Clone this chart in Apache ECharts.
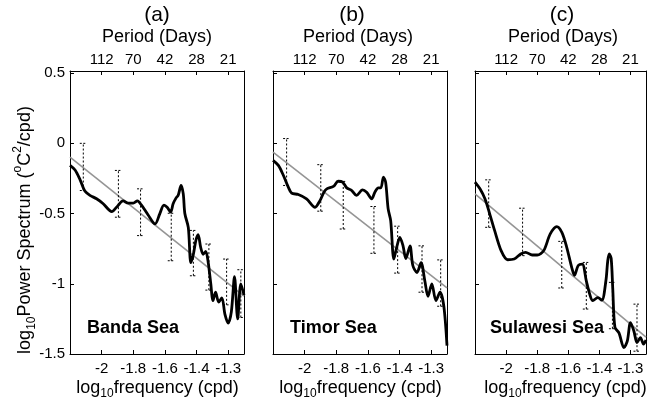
<!DOCTYPE html>
<html><head><meta charset="utf-8">
<script src="https://cdn.jsdelivr.net/npm/echarts@6/dist/echarts.min.js"></script>
<style>html,body{margin:0;padding:0;background:#fff}#c{width:649px;height:399px}</style>
</head><body><div id="c"></div>
<script>
// x positions are in axis units: tick k (1..5) carries the k-th label
const tickPositions = [1, 2, 3, 4, 5];
const bottomTickLabels = ['-2', '-1.8', '-1.6', '-1.4', '-1.3'];
const topTickLabels = ['112', '70', '42', '28', '21'];
const yTickLabels = ['-1.5', '-1', '-0.5', '0', '0.5'];
const panelLetters = ['(a)', '(b)', '(c)'];
const seaNames = ['Banda Sea', 'Timor Sea', 'Sulawesi Sea'];

// Panel (a) Banda Sea
const bandaCurve = [[0,-0.157],[0.16,-0.19],[0.32,-0.26],[0.47,-0.34],[0.63,-0.37],[0.84,-0.395],[1.05,-0.43],[1.32,-0.486],[1.47,-0.455],[1.68,-0.41],[1.84,-0.426],[2.0,-0.426],[2.13,-0.41],[2.26,-0.44],[2.47,-0.51],[2.69,-0.574],[2.84,-0.50],[2.97,-0.44],[3.07,-0.455],[3.18,-0.49],[3.26,-0.43],[3.35,-0.39],[3.42,-0.37],[3.51,-0.30],[3.58,-0.36],[3.63,-0.50],[3.74,-0.60],[3.82,-0.85],[3.90,-0.79],[3.98,-0.69],[4.05,-0.65],[4.13,-0.74],[4.21,-0.79],[4.29,-0.77],[4.37,-0.85],[4.45,-1.0],[4.52,-1.12],[4.6,-1.06],[4.7,-1.13],[4.8,-1.1],[4.9,-1.22],[5.0,-1.28],[5.1,-1.2],[5.2,-0.95],[5.3,-1.25],[5.4,-1.0],[5.5,-1.08]];
const bandaFit = [[0,-0.098],[5.5,-1.088]];
const bandaBars = [[0.42,-0.336,0.0],[1.53,-0.526,-0.193],[2.23,-0.657,-0.324],[3.2,-0.836,-0.498],[3.9,-0.943,-0.62],[4.39,-1.045,-0.717],[4.95,-1.15,-0.824],[5.4,-1.24,-0.90]];

// Panel (b) Timor Sea
const timorCurve = [[0,-0.121],[0.17,-0.157],[0.33,-0.229],[0.48,-0.31],[0.59,-0.355],[0.80,-0.364],[1.06,-0.395],[1.33,-0.455],[1.48,-0.41],[1.61,-0.348],[1.70,-0.324],[1.91,-0.307],[2.06,-0.27],[2.20,-0.276],[2.33,-0.317],[2.49,-0.336],[2.64,-0.371],[2.83,-0.331],[2.96,-0.348],[3.12,-0.395],[3.22,-0.348],[3.33,-0.317],[3.41,-0.317],[3.49,-0.24],[3.56,-0.276],[3.64,-0.467],[3.72,-0.55],[3.82,-0.824],[3.91,-0.74],[4.01,-0.67],[4.11,-0.73],[4.20,-0.82],[4.33,-0.73],[4.42,-0.87],[4.55,-0.92],[4.68,-0.85],[4.80,-0.98],[4.90,-1.09],[5.02,-1.0],[5.15,-1.12],[5.28,-1.06],[5.40,-1.16],[5.5,-1.44]];
const timorFit = [[0,-0.062],[5.5,-1.03]];
const timorBars = [[0.43,-0.30,0.034],[1.51,-0.483,-0.152],[2.22,-0.61,-0.271],[3.19,-0.783,-0.45],[3.94,-0.924,-0.59],[4.71,-1.06,-0.73],[5.3,-1.16,-0.83]];

// Panel (c) Sulawesi Sea
const sulawesiCurve = [[0,-0.276],[0.16,-0.324],[0.32,-0.395],[0.47,-0.50],[0.63,-0.62],[0.84,-0.764],[1.05,-0.829],[1.26,-0.824],[1.47,-0.788],[1.63,-0.776],[1.84,-0.795],[2.0,-0.795],[2.21,-0.764],[2.42,-0.645],[2.63,-0.593],[2.79,-0.633],[2.95,-0.74],[3.11,-0.883],[3.2,-0.94],[3.32,-0.87],[3.45,-0.86],[3.58,-0.979],[3.69,-1.074],[3.79,-1.12],[3.95,-1.098],[4.08,-1.117],[4.21,-0.979],[4.27,-0.836],[4.32,-0.788],[4.38,-0.82],[4.43,-1.03],[4.50,-1.31],[4.63,-1.35],[4.79,-1.455],[4.90,-1.407],[5.0,-1.276],[5.11,-1.336],[5.21,-1.419],[5.32,-1.383],[5.42,-1.43],[5.5,-1.40]];
const sulawesiFit = [[0,-0.36],[5.5,-1.38]];
const sulawesiBars = [[0.44,-0.598,-0.26],[1.53,-0.80,-0.462],[2.79,-1.03,-0.698],[3.58,-1.18,-0.848],[4.42,-1.32,-0.99],[5.21,-1.48,-1.145]];

const curves = [bandaCurve, timorCurve, sulawesiCurve];
const fits = [bandaFit, timorFit, sulawesiFit];
const bars = [bandaBars, timorBars, sulawesiBars];

const FONT = 'Liberation Sans, Arial, sans-serif';
const grids = [
  {left: 70, top: 71, width: 174, height: 283},
  {left: 273, top: 71, width: 174, height: 283},
  {left: 475, top: 71, width: 173, height: 283}
];
const letterX = [157, 352, 562];
const periodX = [157, 358, 563];
const freqX = [157.5, 360.5, 565.5];
const seaX = [87, 290, 490];

function tickLabel(list) {
  return function (v) {
    const i = tickPositions.indexOf(Math.round(v * 1000) / 1000);
    return i >= 0 ? list[i] : '';
  };
}
function yLabel(v) {
  const r = Math.round(v * 1000) / 1000;
  const s = String(r);
  return yTickLabels.indexOf(s) >= 0 ? s : '';
}

const xAxes = [], yAxes = [], series = [], graphics = [];
grids.forEach((g, i) => {
  const lineS = {show: true, onZero: false, lineStyle: {color: '#000', width: 1}};
  const common = {
    gridIndex: i, type: 'value', min: 0, max: 5.5, interval: 1,
    axisLine: lineS,
    axisTick: {show: true, inside: true, length: 4, lineStyle: {color: '#000'}},
    splitLine: {show: false},
    axisLabel: {fontFamily: FONT, fontSize: 15, color: '#000'}
  };
  xAxes.push(Object.assign({}, common, {position: 'bottom',
    axisLabel: Object.assign({}, common.axisLabel, {margin: 7, formatter: tickLabel(bottomTickLabels)})}));
  xAxes.push(Object.assign({}, common, {position: 'top',
    axisLabel: Object.assign({}, common.axisLabel, {margin: 4, formatter: tickLabel(topTickLabels)})}));
  yAxes.push({
    gridIndex: i, type: 'value', min: -1.5, max: 0.515, interval: 0.5, position: 'left',
    axisLine: lineS,
    axisTick: {show: true, inside: true, length: 4, lineStyle: {color: '#000'}},
    splitLine: {show: false},
    axisLabel: {show: i === 0, fontFamily: FONT, fontSize: 15, color: '#000', margin: 5, formatter: yLabel}
  });
  yAxes.push({
    gridIndex: i, type: 'value', min: -1.5, max: 0.515, position: 'right',
    axisLine: lineS,
    axisTick: {show: false}, axisLabel: {show: false}, splitLine: {show: false}
  });
  const xi = i * 2, yi = i * 2;
  series.push({
    type: 'line', xAxisIndex: xi, yAxisIndex: yi, data: fits[i], showSymbol: false, silent: true,
    lineStyle: {color: '#959595', width: 1.6}, z: 2
  });
  series.push({
    type: 'custom', xAxisIndex: xi, yAxisIndex: yi, data: bars[i], silent: true, z: 3,
    encode: {x: 0, y: [1, 2]},
    renderItem: function (params, api) {
      const x = api.value(0), lo = api.value(1), hi = api.value(2);
      const pLo = api.coord([x, lo]), pHi = api.coord([x, hi]);
      const w = 3.5;
      const st = {stroke: '#000', lineWidth: 1, lineDash: [2, 2], fill: null};
      const cap = {stroke: '#000', lineWidth: 1, lineDash: [2, 1.5], fill: null};
      return {type: 'group', children: [
        {type: 'line', shape: {x1: pLo[0], y1: pLo[1], x2: pHi[0], y2: pHi[1]}, style: st},
        {type: 'line', shape: {x1: pLo[0] - w, y1: pLo[1], x2: pLo[0] + w, y2: pLo[1]}, style: cap},
        {type: 'line', shape: {x1: pHi[0] - w, y1: pHi[1], x2: pHi[0] + w, y2: pHi[1]}, style: cap}
      ]};
    }
  });
  series.push({
    type: 'line', xAxisIndex: xi, yAxisIndex: yi, data: curves[i], showSymbol: false, silent: true,
    smooth: 0.3, lineStyle: {color: '#000', width: 2.8}, z: 4
  });

  graphics.push({type: 'text', x: letterX[i], y: 15, style: {text: panelLetters[i], font: '21px ' + FONT, fill: '#000', align: 'center', verticalAlign: 'middle'}});
  graphics.push({type: 'text', x: periodX[i], y: 37, style: {text: 'Period (Days)', font: '18px ' + FONT, fill: '#000', align: 'center', verticalAlign: 'middle'}});
  graphics.push({type: 'text', x: freqX[i], y: 388, style: {
    text: '{a|log}{s|10}{a|frequency (cpd)}', align: 'center', verticalAlign: 'middle',
    rich: {
      a: {fontFamily: FONT, fontSize: 18, fill: '#000', color: '#000', lineHeight: 24, verticalAlign: 'middle'},
      s: {fontFamily: FONT, fontSize: 12, fill: '#000', color: '#000', lineHeight: 24, verticalAlign: 'bottom'}
    }}});
  graphics.push({type: 'text', x: seaX[i], y: 328, style: {text: seaNames[i], font: 'bold 18px ' + FONT, fill: '#000', align: 'left', verticalAlign: 'middle'}});
});

graphics.push({type: 'text', x: 25, y: 230, rotation: Math.PI / 2, style: {
  text: '{a|log}{s|10}{a|Power Spectrum (}{p|o}{a|C}{p|2}{a|/cpd)}', align: 'center', verticalAlign: 'middle',
  rich: {
    a: {fontFamily: FONT, fontSize: 18, fill: '#000', color: '#000', lineHeight: 26, verticalAlign: 'middle'},
    s: {fontFamily: FONT, fontSize: 12, fill: '#000', color: '#000', lineHeight: 26, verticalAlign: 'bottom'},
    p: {fontFamily: FONT, fontSize: 12, fill: '#000', color: '#000', lineHeight: 26, verticalAlign: 'top'}
  }}});

const chart = echarts.init(document.getElementById('c'), null, {renderer: 'canvas'});
chart.setOption({
  animation: false,
  backgroundColor: '#fff',
  grid: grids.map(g => Object.assign({containLabel: false}, g)),
  xAxis: xAxes,
  yAxis: yAxes,
  series: series,
  graphic: graphics
});
</script></body></html>
